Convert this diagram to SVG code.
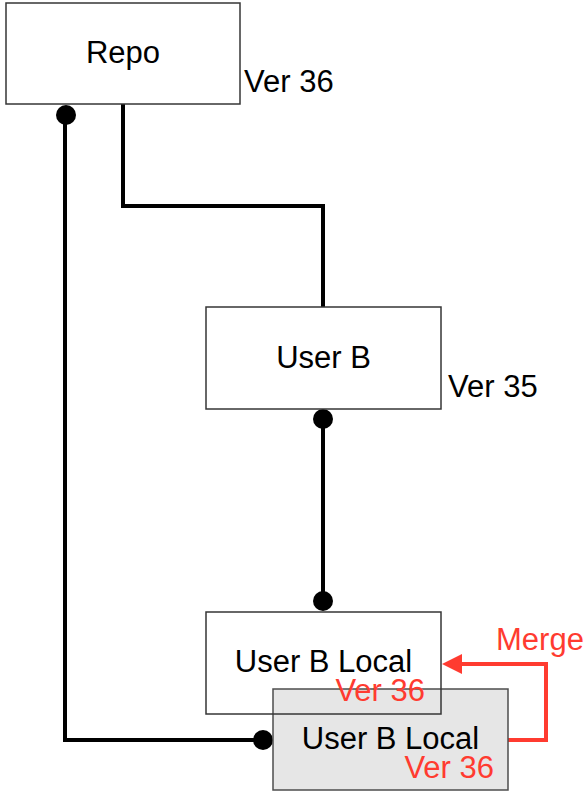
<svg xmlns="http://www.w3.org/2000/svg" width="585" height="798" viewBox="0 0 585 798">
<style>
.box{fill:#ffffff;stroke:#363636;stroke-width:1.5}
.gbox{fill:#e6e6e6;stroke:#4d4d4d;stroke-width:1.5}
.lbl{font-family:"Liberation Sans",Arial,sans-serif;font-size:31px;fill:#000}
.red{fill:#ff3b30}
.wire{fill:none;stroke:#000;stroke-width:4}
.rwire{fill:none;stroke:#ff3b30;stroke-width:4}
.dot{fill:#000}
</style>
<rect width="585" height="798" fill="#fff"/>
<g id="connectors">
<path class="wire" d="M123 104 V206 H323 V307"/>
<path class="wire" d="M323 419 V601"/>
<path class="wire" d="M65 115 V740 H263"/>
<circle class="dot" cx="66" cy="115" r="10"/>
<circle class="dot" cx="323" cy="419" r="10"/>
<circle class="dot" cx="323" cy="601" r="10"/>
<circle class="dot" cx="263" cy="740" r="10"/>
<path class="rwire" d="M508 740 H546 V664 H460"/>
<polygon class="red" points="442,664 462,654 462,674"/>
<text class="lbl red" x="496" y="650">Merge</text>
</g>
<g id="repo">
<rect class="box" x="6" y="3" width="234" height="101"/>
<text class="lbl" x="123" y="63" text-anchor="middle">Repo</text>
<text class="lbl" x="244" y="92">Ver 36</text>
</g>
<g id="userB">
<rect class="box" x="206" y="307" width="235" height="102"/>
<text class="lbl" x="323.5" y="368" text-anchor="middle">User B</text>
<text class="lbl" x="448" y="397">Ver 35</text>
</g>
<g id="userBLocal2">
<rect class="gbox" x="273" y="689" width="235" height="101"/>
<text class="lbl" x="390.5" y="749" text-anchor="middle">User B Local</text>
<text class="lbl red" x="494" y="778" text-anchor="end">Ver 36</text>
</g>
<g id="userBLocal">
<rect class="box" x="206" y="612" width="235" height="102" style="fill:none"/>
<text class="lbl" x="323.5" y="672" text-anchor="middle">User B Local</text>
<text class="lbl red" x="425" y="701" text-anchor="end">Ver 36</text>
</g>
</svg>
